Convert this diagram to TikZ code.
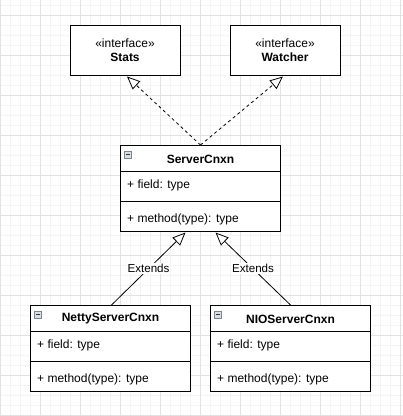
\documentclass[tikz,border=0pt]{standalone}
\usepackage{fontspec}
\setmainfont{Liberation Sans}
\usetikzlibrary{arrows.meta,calc}
\definecolor{gmaj}{HTML}{E2E2E2}
\definecolor{gmin}{HTML}{F4F4F4}
\definecolor{icofill}{HTML}{D8DEE4}
\definecolor{icodraw}{HTML}{7A8590}
\begin{document}
\begin{tikzpicture}[x=1pt,y=-1pt,
  ifbox/.style={draw, line width=1pt, fill=white, minimum width=110pt, minimum height=50pt,
    inner sep=0pt, align=center, font=\fontsize{12}{14}\selectfont},
  clsbox/.style={draw, line width=1pt, fill=white, minimum width=160pt, minimum height=86pt,
    inner sep=0pt, anchor=north west},
  title/.style={font=\fontsize{12}{14}\selectfont\bfseries, inner sep=0pt},
  member/.style={font=\fontsize{12}{14}\selectfont, inner sep=0pt, anchor=west},
  lbl/.style={font=\fontsize{11.6}{13}\selectfont, fill=white, inner sep=1pt},
  hollow/.style={-{Triangle[length=13pt, width=11pt, fill=white]}},
  rel/.style={line width=0.8pt, hollow},
  gridmin/.style={gmin, line width=1pt},
  gridmaj/.style={gmaj, line width=1pt}
]
\useasboundingbox (0,0) rectangle (403,416);
\fill[white] (0,0) rectangle (403,416);
% grid
\foreach \x in {0,10,...,400} \draw[gridmin] (\x,0) -- (\x,416);
\foreach \y in {5,15,...,415} \draw[gridmin] (0,\y) -- (403,\y);
\foreach \x in {0,40,...,400} \draw[gridmaj] (\x,0) -- (\x,416);
\foreach \y in {15,55,...,415} \draw[gridmaj] (0,\y) -- (403,\y);

% interfaces
\node[ifbox] (stats) at (125,50) {«interface»\\\textbf{Stats}};
\node[ifbox] (watcher) at (285,50) {«interface»\\\textbf{Watcher}};

% classes
\newcommand{\umlclass}[3]{%
  \node[clsbox] (#1) at #2 {};
  \draw[line width=1pt] ($(#1.north west)+(0,26.5)$) -- ($(#1.north east)+(0,26.5)$);
  \draw[line width=1pt] ($(#1.north west)+(0,56)$) -- ($(#1.north east)+(0,56)$);
  \node[title] (#1-t) at ($(#1.north)+(0,14)$) {#3};
  \node[member] (#1-f) at ($(#1.north west)+(7,40)$) {+ field: type};
  \node[member] (#1-m) at ($(#1.north west)+(7,74)$) {+ method(type): type};
  \draw[icodraw, fill=icofill, line width=0.7pt] ($(#1.north west)+(4.5,6.5)$) rectangle ($(#1.north west)+(11,13)$);
  \draw[black!80, line width=0.9pt] ($(#1.north west)+(6,9.75)$) -- ($(#1.north west)+(9.5,9.75)$);
}
\umlclass{sc}{(120,145)}{ServerCnxn}
\umlclass{netty}{(30,305)}{NettyServerCnxn}
\umlclass{nio}{(210,305)}{NIOServerCnxn}

% realizations
\draw[rel, dash pattern=on 3pt off 3pt] (sc.north) -- ($(stats.south)+(2,1)$);
\draw[rel, dash pattern=on 3pt off 3pt] (sc.north) -- ($(watcher.south)+(-2,1)$);

% generalizations
\draw[rel] ($(netty.north)+(1,0)$) -- node[lbl] {Extends} ($(sc.south)+(-15,0.5)$);
\draw[rel] ($(nio.north)+(0,0)$) -- node[lbl] {Extends} ($(sc.south)+(15,0.5)$);
\end{tikzpicture}
\end{document}
